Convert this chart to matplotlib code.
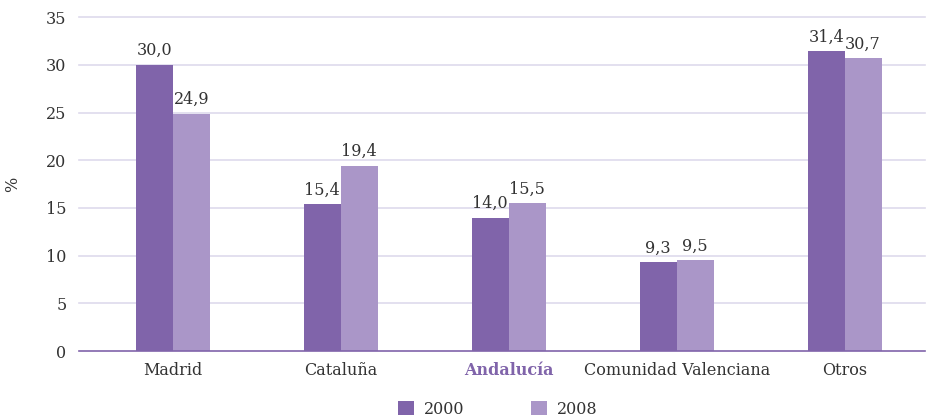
import matplotlib
matplotlib.use("Agg")
import matplotlib.pyplot as plt
import numpy as np

plt.rcParams["font.family"] = ["DejaVu Serif"]

regions = ["Madrid", "Cataluña", "Andalucía", "Comunidad Valenciana", "Otros"]
values_2000 = [30.0, 15.4, 14.0, 9.3, 31.4]
values_2008 = [24.9, 19.4, 15.5, 9.5, 30.7]
series_labels = ["2000", "2008"]
y_ticks = [0, 5, 10, 15, 20, 25, 30, 35]

DARK = "#8064aa"
LIGHT = "#aa96c8"
GRID = "#dedaec"
TEXT = "#333333"
FS = 11.5

fig = plt.figure(figsize=(9.28, 4.18), dpi=100)
ax = fig.add_axes([0.085, 0.160, 0.912, 0.799])

x = np.arange(len(regions))
w = 0.22
b1 = ax.bar(x - w / 2, values_2000, w, color=DARK, label=series_labels[0], zorder=3)
b2 = ax.bar(x + w / 2, values_2008, w, color=LIGHT, label=series_labels[1], zorder=3)

for bars in (b1, b2):
    for rect in bars:
        h = rect.get_height()
        ax.text(rect.get_x() + rect.get_width() / 2, h + 0.6,
                f"{h:.1f}".replace(".", ","), ha="center", va="bottom",
                fontsize=FS, color=TEXT, zorder=4)

ax.set_xlim(-0.56, 4.48)
ax.set_ylim(0, 35)
ax.set_yticks(y_ticks)
ax.set_xticks(x)
ax.set_xticklabels(regions)
ax.tick_params(axis="both", length=0, labelsize=FS, colors=TEXT)
ax.tick_params(axis="x", pad=8)
ax.tick_params(axis="y", pad=9)

lbl = ax.get_xticklabels()[2]
lbl.set_fontweight("bold")
lbl.set_color(DARK)

# Gridlines drawn by hand-free axhline so the 35 line is not clipped
for t in y_ticks[1:]:
    ax.axhline(t, color=GRID, linewidth=1.2, zorder=0, clip_on=False)
for s in ("top", "right", "left"):
    ax.spines[s].set_visible(False)
ax.spines["bottom"].set_color(DARK)
ax.spines["bottom"].set_linewidth(1.2)
ax.spines["bottom"].set_zorder(5)

ax.set_ylabel("%", fontsize=FS, color=TEXT, labelpad=18)

ax.legend(loc="upper center", bbox_to_anchor=(0.495, -0.105), ncol=2,
          frameon=False, fontsize=FS, handlelength=1.0, handleheight=1.0,
          columnspacing=4.2, handletextpad=0.6, labelcolor=TEXT)

fig.savefig("out.png", dpi=100)
